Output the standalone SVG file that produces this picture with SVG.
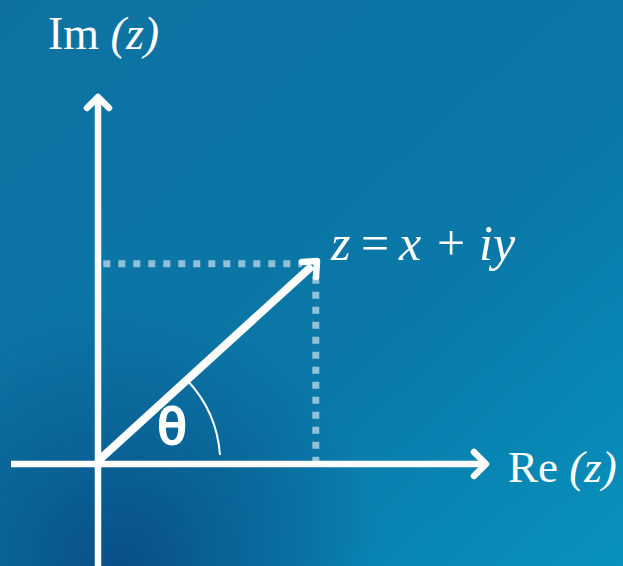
<svg xmlns="http://www.w3.org/2000/svg" width="623" height="566" viewBox="0 0 623 566">
<defs>
<linearGradient id="bg" x1="0" y1="0" x2="1" y2="1">
<stop offset="0" stop-color="#0d72a2"/>
<stop offset="0.6" stop-color="#0a78a8"/>
<stop offset="1" stop-color="#0892bd"/>
</linearGradient>
<radialGradient id="dark" cx="120" cy="566" r="260" gradientUnits="userSpaceOnUse">
<stop offset="0" stop-color="#08447f" stop-opacity="0.8"/>
<stop offset="0.6" stop-color="#0a5088" stop-opacity="0.4"/>
<stop offset="1" stop-color="#0a5088" stop-opacity="0"/>
</radialGradient>
<style>
.ax{stroke:#fff;stroke-width:6.5;fill:none}
.head{stroke:#fff;stroke-width:6.5;fill:none;stroke-linecap:round;stroke-linejoin:round}
.dash{stroke:#fff;stroke-opacity:0.55;stroke-width:7;stroke-dasharray:7 8;fill:none}
.lbl{fill:#fff;font-family:"Liberation Serif","DejaVu Serif",serif}
</style>
</defs>
<rect width="623" height="566" fill="url(#bg)"/>
<rect width="623" height="566" fill="url(#dark)"/>
<g id="connectors">
<line class="dash" x1="103.3" y1="263.7" x2="302" y2="263.7"/>
<line class="dash" x1="315.8" y1="276.7" x2="315.8" y2="466"/>
<line class="ax" x1="98" y1="100" x2="98" y2="566"/>
<line class="ax" x1="11" y1="464" x2="484" y2="464"/>
<polyline class="head" points="87,108 98,97 109,108"/>
<polyline class="head" points="474,452 486,464 474,476"/>
<line stroke="#fff" stroke-width="8" x1="98" y1="461" x2="312" y2="266"/>
<polyline class="head" stroke-width="7.5" points="302,262 317,261 316,277"/>
<path d="M187,380 A122,122 0 0 1 220,455" stroke="#fff" stroke-width="2" fill="none"/>
</g>
<g id="im-label"><text class="lbl" x="48" y="49" font-size="46">Im <tspan font-style="italic">(z)</tspan></text></g>
<g id="re-label"><text class="lbl" x="508" y="482" font-size="45">Re <tspan font-style="italic">(z)</tspan></text></g>
<g id="z-label"><text class="lbl" y="260" font-size="50"><tspan x="331" font-style="italic">z</tspan><tspan x="361">=</tspan><tspan x="399" font-style="italic">x</tspan><tspan x="437">+</tspan><tspan x="479" font-style="italic">iy</tspan></text></g>
<g id="theta-label"><text x="172" y="445" font-size="50" font-weight="600" text-anchor="middle" fill="#fff" font-family="Open Sans,sans-serif" stroke="#fff" stroke-width="1">θ</text></g>
</svg>
